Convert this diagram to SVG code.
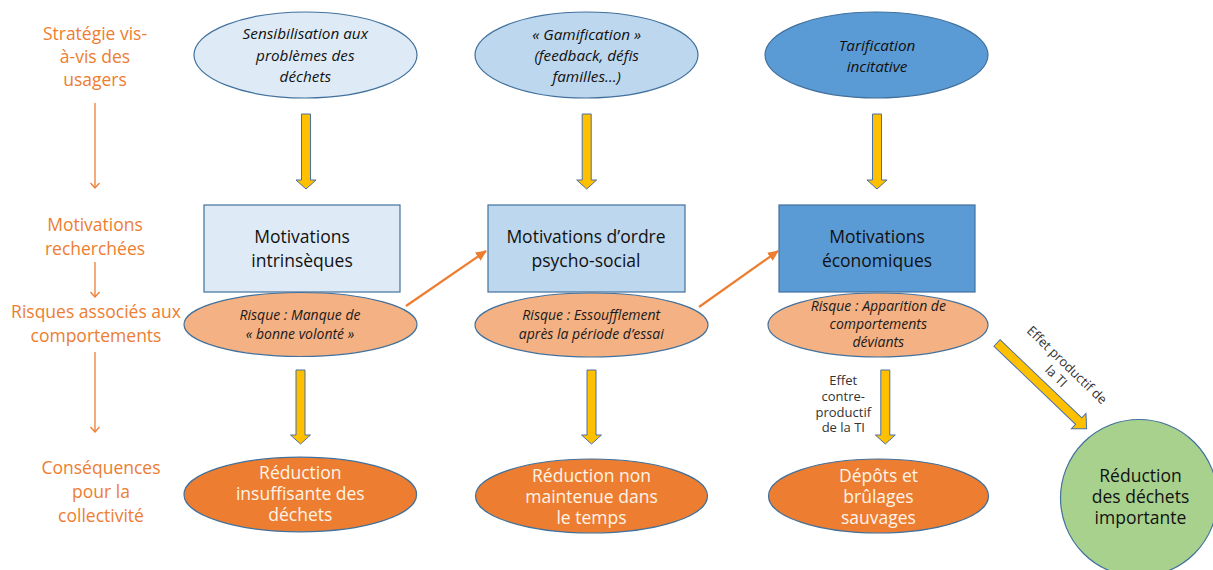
<svg xmlns="http://www.w3.org/2000/svg" width="1213" height="570" viewBox="0 0 1213 570">
<style>
text{font-family:"Open Sans","Liberation Sans",sans-serif;text-anchor:middle}
.lab{fill:#ED7D31;font-size:17.5px}
.top{font-size:15.3px;font-style:italic;fill:#111}
.box{font-size:17.5px;fill:#111}
.risk{font-size:14px;font-style:italic;fill:#1a1a1a}
.res{font-size:17.5px;fill:#FFF4E8}
.small{font-size:13px;fill:#333}
.sh{stroke:#41719C;stroke-width:1.2}
.ya{fill:#FFC000;stroke:#4A6FA5;stroke-width:1}
.guide{stroke:#ED7D31;stroke-width:1.3;fill:none}
.oa{stroke:#ED7D31;stroke-width:2.2;fill:none}
</style>
<defs>
<marker id="vhead" markerWidth="10" markerHeight="10" refX="9" refY="5" orient="auto" markerUnits="userSpaceOnUse" viewBox="0 0 10 10">
<path d="M4,0.5 L9,5 L4,9.5" fill="none" stroke="#ED7D31" stroke-width="1.3"/>
</marker>
<marker id="ohead" markerWidth="12" markerHeight="12" refX="10" refY="5" orient="auto" markerUnits="userSpaceOnUse" viewBox="0 0 12 10">
<path d="M0,0 L11,5 L0,10 Z" fill="#ED7D31"/>
</marker>
<path id="ya75" d="M-4.5,0 L4.5,0 L4.5,66 L10,66 L0,75 L-10,66 L-4.5,66 Z"/>
<path id="ya74" d="M-4.5,0 L4.5,0 L4.5,65 L10,65 L0,74 L-10,65 L-4.5,65 Z"/>
<path id="ya124" d="M-4.5,0 L4.5,0 L4.5,113 L10.5,113 L0,124 L-10.5,113 L-4.5,113 Z"/>
</defs>
<rect width="1213" height="570" fill="#fff"/>

<g id="labels">
<text class="lab" x="95" y="40">Stratégie vis-</text>
<text class="lab" x="95" y="63">à-vis des</text>
<text class="lab" x="95" y="86">usagers</text>
<text class="lab" x="95" y="231">Motivations</text>
<text class="lab" x="95" y="255">recherchées</text>
<text class="lab" x="96" y="318">Risques associés aux</text>
<text class="lab" x="96" y="342">comportements</text>
<text class="lab" x="101" y="474">Conséquences</text>
<text class="lab" x="101" y="498">pour la</text>
<text class="lab" x="101" y="522">collectivité</text>
</g>

<g id="connectors">
<line class="guide" x1="95" y1="103" x2="95" y2="188" marker-end="url(#vhead)"/>
<line class="guide" x1="95" y1="262" x2="95" y2="297" marker-end="url(#vhead)"/>
<line class="guide" x1="95" y1="352" x2="95" y2="432" marker-end="url(#vhead)"/>
<use href="#ya75" class="ya" x="306" y="114"/>
<use href="#ya75" class="ya" x="586.7" y="114"/>
<use href="#ya75" class="ya" x="877" y="114"/>
<use href="#ya74" class="ya" x="300.5" y="370"/>
<use href="#ya74" class="ya" x="591.5" y="370"/>
<use href="#ya74" class="ya" x="885.3" y="370"/>
<use href="#ya124" class="ya" transform="translate(997,343) rotate(-46.3)"/>
<line class="oa" x1="406" y1="306" x2="486" y2="251" marker-end="url(#ohead)"/>
<line class="oa" x1="699" y1="307" x2="778" y2="251" marker-end="url(#ohead)"/>
<g class="small">
<text x="843.3" y="385">Effet</text>
<text x="843.3" y="400.7">contre-</text>
<text x="843.3" y="416.7">productif</text>
<text x="843.3" y="432.3">de la TI</text>
</g>
<g class="small" transform="translate(1067,365) rotate(44)">
<text x="0" y="4.5">Effet productif de</text>
<text x="0" y="20">la TI</text>
</g>
</g>

<g id="strat-sensibilisation">
<ellipse class="sh" cx="305.5" cy="55" rx="111.5" ry="43" fill="#DEEBF7"/>
<text class="top" x="305.3" y="39">Sensibilisation aux</text>
<text class="top" x="305.3" y="61">problèmes des</text>
<text class="top" x="305.3" y="82">déchets</text>
</g>
<g id="strat-gamification">
<ellipse class="sh" cx="586.5" cy="55" rx="111.5" ry="43" fill="#BDD7EE"/>
<text class="top" x="586.7" y="40">« Gamification »</text>
<text class="top" x="586.7" y="61">(feedback, défis</text>
<text class="top" x="586.7" y="82">familles…)</text>
</g>
<g id="strat-tarification">
<ellipse class="sh" cx="876.5" cy="55" rx="111.5" ry="43" fill="#5B9BD5"/>
<text class="top" x="877" y="51">Tarification</text>
<text class="top" x="877" y="72">incitative</text>
</g>

<g id="motiv-intrinseques">
<rect class="sh" x="204" y="205" width="196" height="87" fill="#DEEBF7"/>
<text class="box" x="302" y="243">Motivations</text>
<text class="box" x="302" y="267">intrinsèques</text>
</g>
<g id="motiv-psycho">
<rect class="sh" x="488" y="205" width="197" height="87" fill="#BDD7EE"/>
<text class="box" x="586" y="243">Motivations d’ordre</text>
<text class="box" x="586" y="267">psycho-social</text>
</g>
<g id="motiv-eco">
<rect class="sh" x="779" y="205" width="196" height="87" fill="#5B9BD5"/>
<text class="box" x="877" y="243">Motivations</text>
<text class="box" x="877" y="267">économiques</text>
</g>

<g id="risk-1">
<ellipse class="sh" cx="300.5" cy="324.5" rx="116.5" ry="32" fill="#F4B183"/>
<text class="risk" x="300" y="320">Risque : Manque de</text>
<text class="risk" x="300" y="338.5">« bonne volonté »</text>
</g>
<g id="risk-2">
<ellipse class="sh" cx="591.5" cy="325" rx="116.5" ry="32" fill="#F4B183"/>
<text class="risk" x="591.3" y="320">Risque : Essoufflement</text>
<text class="risk" x="591.3" y="338.5">après la période d’essai</text>
</g>
<g id="risk-3">
<ellipse class="sh" cx="878" cy="325" rx="110" ry="32" fill="#F4B183"/>
<text class="risk" x="878.3" y="311">Risque : Apparition de</text>
<text class="risk" x="878.3" y="329.3">comportements</text>
<text class="risk" x="878.3" y="347">déviants</text>
</g>

<g id="res-1">
<ellipse class="sh" cx="300.3" cy="494.5" rx="116.3" ry="37.3" fill="#ED7D31"/>
<text class="res" x="300.3" y="479">Réduction</text>
<text class="res" x="300.3" y="500">insuffisante des</text>
<text class="res" x="300.3" y="521">déchets</text>
</g>
<g id="res-2">
<ellipse class="sh" cx="591.5" cy="496" rx="116" ry="37" fill="#ED7D31"/>
<text class="res" x="591.5" y="481.5">Réduction non</text>
<text class="res" x="591.5" y="502.5">maintenue dans</text>
<text class="res" x="591.5" y="524">le temps</text>
</g>
<g id="res-3">
<ellipse class="sh" cx="878.5" cy="496" rx="110" ry="37" fill="#ED7D31"/>
<text class="res" x="878.5" y="482">Dépôts et</text>
<text class="res" x="878.5" y="502.7">brûlages</text>
<text class="res" x="878.5" y="524">sauvages</text>
</g>
<g id="res-green">
<circle class="sh" cx="1139" cy="498" r="78.5" fill="#A9D18E"/>
<text class="box" x="1140.5" y="481.7" fill="#1a1a1a">Réduction</text>
<text class="box" x="1140.5" y="503">des déchets</text>
<text class="box" x="1140.5" y="523.5">importante</text>
</g>
</svg>
